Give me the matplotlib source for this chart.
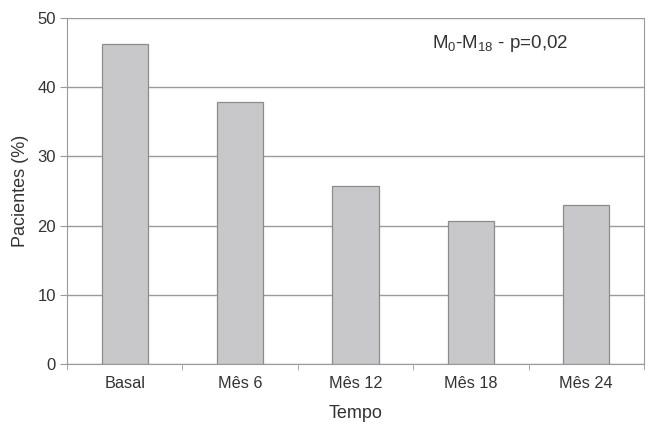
import matplotlib
matplotlib.use("Agg")
import matplotlib.pyplot as plt
import numpy as np

plt.rcParams['font.family'] = ['Liberation Sans', 'DejaVu Sans']
plt.rcParams['mathtext.fontset'] = 'custom'
plt.rcParams['mathtext.rm'] = 'Liberation Sans'
plt.rcParams['mathtext.default'] = 'regular'

# data
categorias = ['Basal', 'Mês 6', 'Mês 12', 'Mês 18', 'Mês 24']
pacientes = [46.2, 37.9, 25.7, 20.7, 23.0]
yticks = [0, 10, 20, 30, 40, 50]

txt = '#333333'
grade = '#9a9a9a'

fig = plt.figure(figsize=(6.49, 4.23), dpi=100)
ax = fig.add_axes([0.1032, 0.1395, 0.8891, 0.8179])

x = np.arange(len(categorias))
ax.set_axisbelow(True)
ax.yaxis.grid(True, color=grade, linewidth=1.0)
ax.bar(x, pacientes, width=0.4, color='#c8c8ca', edgecolor='#8c8c8c', linewidth=0.9, zorder=2)

ax.set_xlim(-0.5, len(categorias) - 0.5)
ax.set_ylim(0, 50)
ax.set_yticks(yticks)
ax.set_xticks(x)
ax.set_xticklabels(categorias)
ax.set_xticks(np.arange(len(categorias) + 1) - 0.5, minor=True)
ax.tick_params(axis='x', which='major', length=0, pad=9, labelsize=11.7, labelcolor=txt)
ax.tick_params(axis='x', which='minor', length=4, color=grade, direction='out')
ax.tick_params(axis='y', length=5, color=grade, labelsize=12, labelcolor=txt, pad=3)

ax.spines['top'].set_visible(False)
ax.spines['left'].set_color(grade)
ax.spines['bottom'].set_color(grade)
ax.spines['right'].set_color(grade)

ax.set_xlabel('Tempo', fontsize=13, color=txt, labelpad=10)
ax.set_ylabel('Pacientes (%)', fontsize=13, color=txt, labelpad=6)

ax.text(0.75, 0.925, r'M$_{0}$-M$_{18}$ - p=0,02', transform=ax.transAxes,
        ha='center', va='center', fontsize=13.5, color=txt)

fig.savefig('out.png', dpi=100)
